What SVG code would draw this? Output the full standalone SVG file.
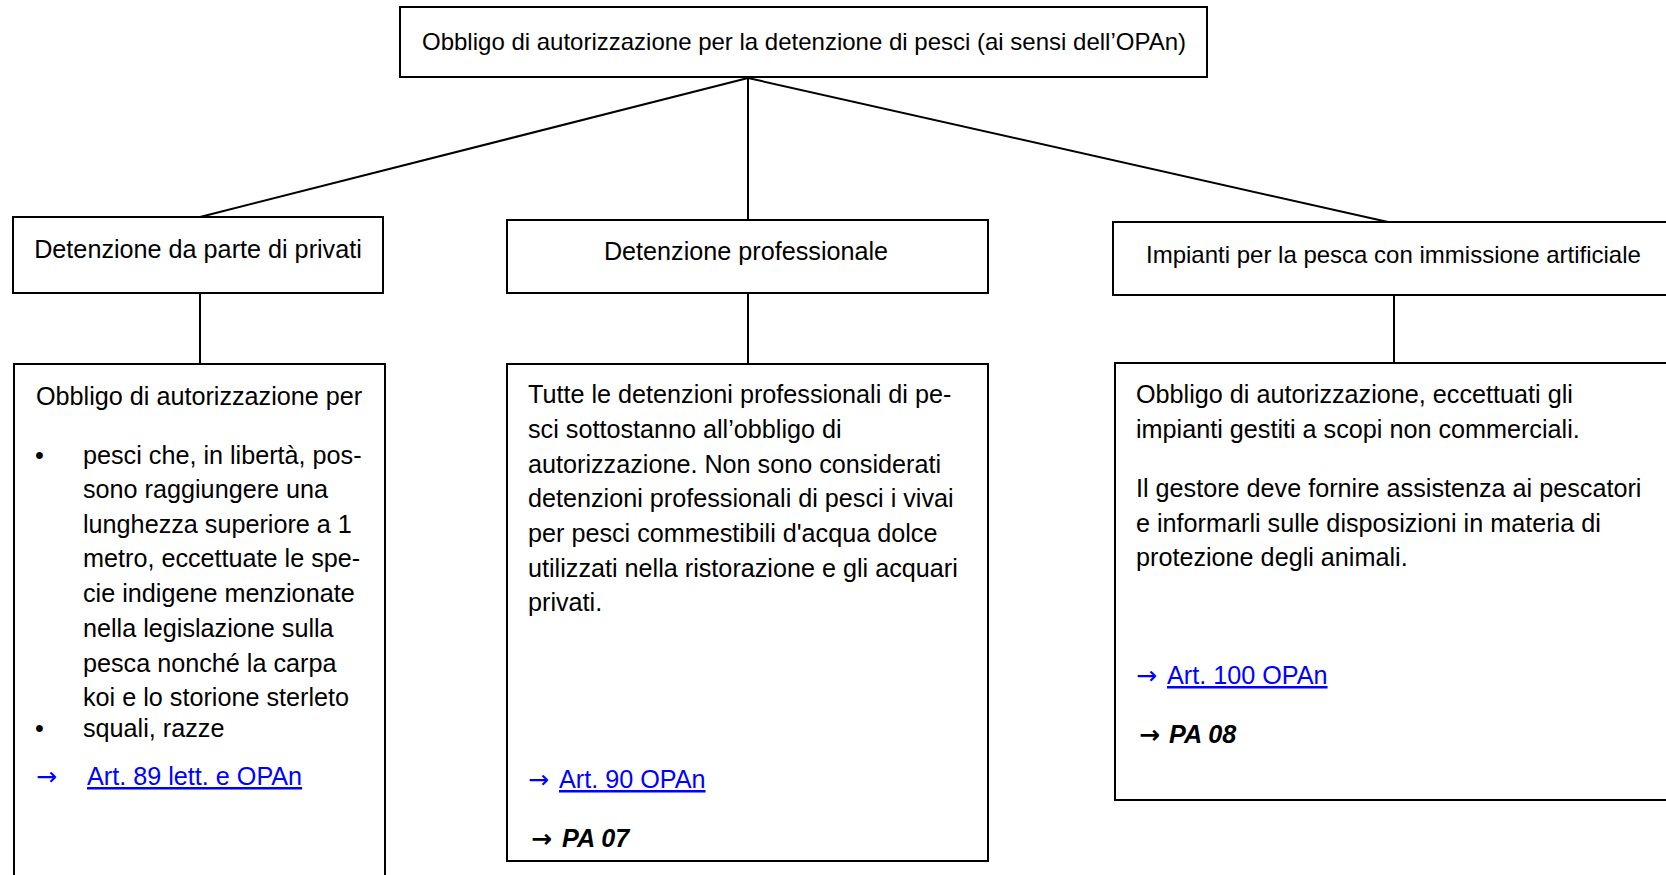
<svg xmlns="http://www.w3.org/2000/svg" width="1666" height="875" viewBox="0 0 1666 875">
<style>
.box{fill:#fff;stroke:#000;stroke-width:2}
.t{font-family:"Liberation Sans",Arial,sans-serif;font-size:25.2px;fill:#000}
.h{font-family:"Liberation Sans",Arial,sans-serif;font-size:24px;fill:#000}
.ar{font-family:"DejaVu Sans",sans-serif;font-size:25px}
.lk{fill:#0000ff}
.pa{font-weight:bold;font-style:italic}
.con{stroke:#000;stroke-width:2;fill:none}
</style>
<rect width="1666" height="875" fill="#fff"/>
<g id="connectors">
<line class="con" x1="748" y1="78" x2="200" y2="217"/>
<line class="con" x1="748" y1="78" x2="748" y2="220"/>
<line class="con" x1="748" y1="78" x2="1388" y2="222"/>
<line class="con" x1="200" y1="293" x2="200" y2="364"/>
<line class="con" x1="748" y1="293" x2="748" y2="364"/>
<line class="con" x1="1394" y1="295" x2="1394" y2="363"/>
</g>
<g id="root">
<rect class="box" x="400" y="7" width="807" height="70"/>
<text class="h" x="804" y="50" text-anchor="middle">Obbligo di autorizzazione per la detenzione di pesci (ai sensi dell’OPAn)</text>
</g>
<g id="privati">
<rect class="box" x="13" y="217" width="370" height="76"/>
<text class="t" x="198" y="258" text-anchor="middle">Detenzione da parte di privati</text>
</g>
<g id="professionale">
<rect class="box" x="507" y="220" width="481" height="73"/>
<text class="t" x="746" y="260" text-anchor="middle">Detenzione professionale</text>
</g>
<g id="impianti">
<rect class="box" x="1113" y="222" width="600" height="73"/>
<text class="h" x="1146" y="263">Impianti per la pesca con immissione artificiale</text>
</g>
<g id="privati-detail">
<rect class="box" x="14" y="364" width="371" height="530"/>
<text class="t" x="36" y="405">Obbligo di autorizzazione per</text>
<text class="t" x="35" y="464">•</text>
<text class="t" x="83" y="464">pesci che, in libertà, pos-</text>
<text class="t" x="83" y="498">sono raggiungere una</text>
<text class="t" x="83" y="533">lunghezza superiore a 1</text>
<text class="t" x="83" y="567">metro, eccettuate le spe-</text>
<text class="t" x="83" y="602">cie indigene menzionate</text>
<text class="t" x="83" y="637">nella legislazione sulla</text>
<text class="t" x="83" y="672">pesca nonché la carpa</text>
<text class="t" x="83" y="706">koi e lo storione sterleto</text>
<text class="t" x="35" y="737">•</text>
<text class="t" x="83" y="737">squali, razze</text>
<text class="ar lk" x="36" y="785">→</text>
<text class="t lk" x="87" y="785" text-decoration="underline">Art. 89 lett. e OPAn</text>
</g>
<g id="professionale-detail">
<rect class="box" x="507" y="364" width="481" height="497"/>
<text class="t" x="528" y="403">Tutte le detenzioni professionali di pe-</text>
<text class="t" x="528" y="438">sci sottostanno all’obbligo di</text>
<text class="t" x="528" y="473">autorizzazione. Non sono considerati</text>
<text class="t" x="528" y="507">detenzioni professionali di pesci i vivai</text>
<text class="t" x="528" y="542">per pesci commestibili d'acqua dolce</text>
<text class="t" x="528" y="577">utilizzati nella ristorazione e gli acquari</text>
<text class="t" x="528" y="611">privati.</text>
<text class="ar lk" x="528" y="788">→</text>
<text class="t lk" x="559" y="788" text-decoration="underline">Art. 90 OPAn</text>
<text class="ar" x="531" y="847" font-weight="bold">→</text>
<text class="t pa" x="562" y="847">PA 07</text>
</g>
<g id="impianti-detail">
<rect class="box" x="1115" y="363" width="600" height="437"/>
<text class="t" x="1136" y="403">Obbligo di autorizzazione, eccettuati gli</text>
<text class="t" x="1136" y="438">impianti gestiti a scopi non commerciali.</text>
<text class="t" x="1136" y="497">Il gestore deve fornire assistenza ai pescatori</text>
<text class="t" x="1136" y="532">e informarli sulle disposizioni in materia di</text>
<text class="t" x="1136" y="566">protezione degli animali.</text>
<text class="ar lk" x="1136" y="684">→</text>
<text class="t lk" x="1167" y="684" text-decoration="underline">Art. 100 OPAn</text>
<text class="ar" x="1139" y="743" font-weight="bold">→</text>
<text class="t pa" x="1169" y="743">PA 08</text>
</g>
</svg>
